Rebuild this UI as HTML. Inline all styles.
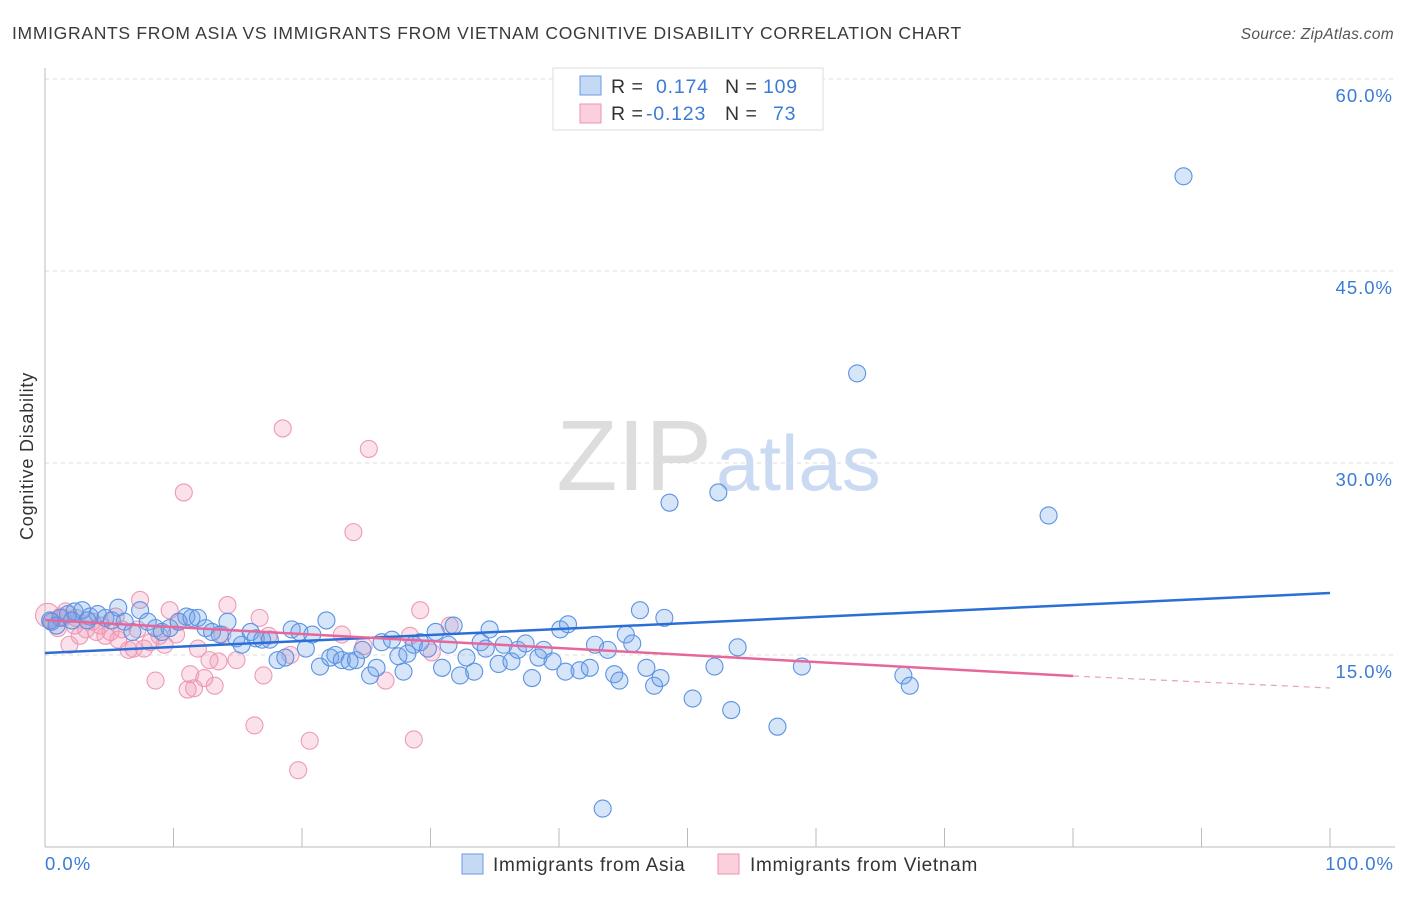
<!DOCTYPE html>
<html><head><meta charset="utf-8"><style>
body{margin:0;background:#fff;font-family:"Liberation Sans",sans-serif;}
svg text{font-family:"Liberation Sans",sans-serif;}
</style></head><body>
<svg id="c" width="1406" height="892">
<text x="12" y="39" font-size="17.5" letter-spacing="0.7" fill="#3a3a3a">IMMIGRANTS FROM ASIA VS IMMIGRANTS FROM VIETNAM COGNITIVE DISABILITY CORRELATION CHART</text>
<text x="1394" y="39" font-size="15.5" letter-spacing="0.3" fill="#555" font-style="italic" text-anchor="end">Source: ZipAtlas.com</text>
<text x="712" y="490" font-size="100" fill="#ddd" text-anchor="end" font-family="Liberation Serif">ZIP</text>
<text x="716" y="490" font-size="78" fill="#c9daf2">atlas</text>
<g id="grid"></g><g id="marks"></g><g id="trend"></g>
<text transform="translate(33,456) rotate(-90)" font-size="18" letter-spacing="0.8" fill="#333" text-anchor="middle">Cognitive Disability</text>
<text x="45" y="870" font-size="18.5" letter-spacing="1" fill="#3a7bd5">0.0%</text>
<text x="1394" y="870" font-size="18.5" letter-spacing="1" fill="#3a7bd5" text-anchor="end">100.0%</text>
<g>
<rect x="553" y="68" width="270" height="62" fill="#fff" stroke="#ddd"/>
<rect x="580" y="76" width="21" height="19" fill="#c5d9f5" stroke="#6a9be0"/>
<rect x="580" y="104" width="21" height="19" fill="#fbd0dc" stroke="#ec93b0"/>
<text x="611" y="93" font-size="19.5" letter-spacing="0.5" fill="#333">R = </text><text x="656" y="93" font-size="19.5" letter-spacing="0.8" fill="#3a7bd5">0.174</text>
<text x="725" y="93" font-size="19.5" letter-spacing="0.5" fill="#333">N = </text><text x="763" y="93" font-size="19.5" letter-spacing="0.8" fill="#3a7bd5">109</text>
<text x="611" y="120" font-size="19.5" letter-spacing="0.5" fill="#333">R = </text><text x="646" y="120" font-size="19.5" letter-spacing="0.8" fill="#3a7bd5">-0.123</text>
<text x="725" y="120" font-size="19.5" letter-spacing="0.5" fill="#333">N = </text><text x="773" y="120" font-size="19.5" letter-spacing="0.8" fill="#3a7bd5">73</text>
</g>
<g>
<rect x="462" y="854" width="21" height="20" fill="#c5d9f5" stroke="#6a9be0"/>
<text x="493" y="871" font-size="19" letter-spacing="0.7" fill="#333">Immigrants from Asia</text>
<rect x="718" y="854" width="21" height="20" fill="#fbd0dc" stroke="#ec93b0"/>
<text x="750" y="871" font-size="19" letter-spacing="0.7" fill="#333">Immigrants from Vietnam</text>
</g>
</svg>
<script>
const yTicks=[15,30,45,60];
const yTickLabels=["15.0%","30.0%","45.0%","60.0%"];
const xTicks=[0,10,20,30,40,50,60,70,80,90,100];
const asiaX=[0.5,1.2,1.8,2.3,2.9,3.5,4.1,4.7,5.2,5.7,6.2,6.8,7.4,8.0,8.6,9.1,9.7,10.4,11.0,11.4,11.9,12.5,13.0,13.6,14.2,14.9,15.3,16.0,16.4,16.9,17.5,18.1,18.7,19.2,19.8,20.3,20.8,21.4,21.9,22.2,22.6,23.1,23.7,24.2,24.7,25.3,25.8,26.2,27.0,27.5,27.9,28.2,28.7,29.2,29.8,30.4,30.9,31.4,31.8,32.3,32.8,33.4,33.9,34.3,34.6,35.3,35.7,36.3,36.8,37.4,37.9,38.4,38.8,39.5,40.1,40.5,40.7,41.6,42.4,42.8,43.4,43.8,44.3,44.7,45.2,45.7,46.3,46.8,47.4,47.9,48.2,48.6,50.4,52.1,52.4,53.4,53.9,57.0,58.9,63.2,66.8,67.3,78.1,88.6,0.4,0.9,2.1,3.3];
const asiaY=[17.6,17.9,18.2,18.4,18.5,18.0,18.2,17.9,17.7,18.7,17.6,16.8,18.5,17.6,17.1,16.8,17.1,17.6,18.0,17.9,17.9,17.1,16.8,16.6,17.6,16.3,15.8,16.8,16.3,16.2,16.2,14.6,14.8,17.0,16.8,15.5,16.6,14.1,17.7,14.8,15.0,14.6,14.5,14.6,15.4,13.4,14.0,16.0,16.2,14.9,13.7,15.1,15.8,16.0,15.5,16.8,14.0,15.8,17.3,13.4,14.8,13.7,16.0,15.5,17.0,14.3,15.8,14.5,15.4,15.9,13.2,14.8,15.4,14.5,17.0,13.7,17.4,13.8,14.0,15.8,3.0,15.4,13.5,13.0,16.6,15.9,18.5,14.0,12.6,13.2,17.9,26.9,11.6,14.1,27.7,10.7,15.6,9.4,14.1,37.0,13.4,12.6,25.9,52.4,17.7,17.3,17.7,17.7];
const vietX=[0.2,0.5,1.0,1.4,1.9,2.3,2.7,3.2,3.7,4.3,4.7,5.1,5.5,6.0,6.5,6.9,7.4,7.7,8.2,8.6,8.9,9.3,9.7,10.4,10.8,11.1,11.3,11.6,11.9,12.4,12.8,13.2,13.5,13.8,14.2,14.9,16.3,16.7,17.0,17.4,18.5,19.1,19.7,20.6,23.1,24.0,24.8,25.2,26.5,28.4,28.7,29.2,30.1,31.5,1.2,1.6,2.4,4.0,5.7,7.2,10.2];
const vietY=[18.1,17.6,17.1,17.9,15.8,17.3,16.5,17.0,17.6,17.3,16.5,16.8,18.0,17.0,15.4,15.5,19.3,15.5,16.0,13.0,16.5,15.8,18.5,17.6,27.7,12.3,13.5,12.4,15.5,13.2,14.6,12.6,14.5,16.6,18.9,14.6,9.5,17.9,13.4,16.5,32.7,15.0,6.0,8.3,16.6,24.6,15.7,31.1,13.0,16.5,8.4,18.5,15.2,17.3,18.0,18.4,17.9,16.8,16.2,17.0,16.6];
const asiaTrend=[15.16,19.84];
const vietTrend=[17.73,13.36,12.42];
const NS='http://www.w3.org/2000/svg';
const X=v=>45+v*12.85, Y=v=>847-v*12.8;
function mk(t,a,p){const e=document.createElementNS(NS,t);for(const k in a)e.setAttribute(k,a[k]);p.appendChild(e);return e;}
const grid=document.getElementById('grid'),marks=document.getElementById('marks'),trend=document.getElementById('trend');
yTicks.forEach((t,i)=>{
 const l=mk('line',{x1:45,x2:1395,y1:Y(t),y2:Y(t),stroke:'#ddd','stroke-dasharray':'4,4'},grid);
 
 
 const tx=mk('text',{x:1393,y:Y(t)+23,'font-size':18.5,'letter-spacing':1,fill:'#3a7bd5','text-anchor':'end'},grid);
 tx.textContent=yTickLabels[i];
 
 
});
const ax=mk('line',{x1:45,x2:45,y1:68,y2:847,stroke:'#bbb'},grid);


const bx=mk('line',{x1:45,x2:1395,y1:847,y2:847,stroke:'#bbb'},grid);


xTicks.forEach(t=>{
 const l=mk('line',{x1:X(t),x2:X(t),y1:828,y2:847,stroke:'#bbb'},grid);
 
 
});
vietX.forEach((v,i)=>{
 const c=mk('circle',{cx:X(v),cy:Y(vietY[i]),r:i===0?12:8.5,fill:'rgba(242,150,180,0.28)',stroke:'#ee9ab6','stroke-width':1.1},marks);
 
 
});
asiaX.forEach((v,i)=>{
 const c=mk('circle',{cx:X(v),cy:Y(asiaY[i]),r:8.5,fill:'rgba(110,160,235,0.28)',stroke:'#5b93e2','stroke-width':1.1},marks);
 
 
});
const tb=mk('line',{x1:X(0),y1:Y(asiaTrend[0]),x2:X(100),y2:Y(asiaTrend[1]),stroke:'#2b6fd6','stroke-width':2.5},trend);


const tp=mk('line',{x1:X(0),y1:Y(vietTrend[0]),x2:X(80),y2:Y(vietTrend[1]),stroke:'#e8679a','stroke-width':2.5},trend);


const td=mk('line',{x1:X(80),y1:Y(vietTrend[1]),x2:X(100),y2:Y(vietTrend[2]),stroke:'#e8a0bb','stroke-width':1.2,'stroke-dasharray':'6,5'},trend);


</script>
</body></html>
